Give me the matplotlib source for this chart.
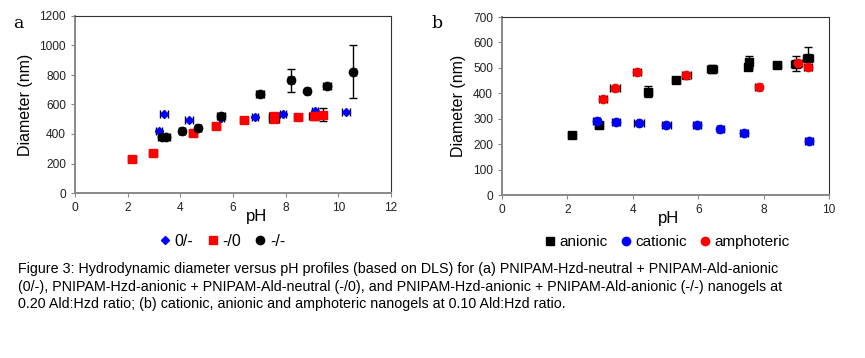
import matplotlib
matplotlib.use("Agg")
import matplotlib.pyplot as plt
from matplotlib.lines import Line2D

plt.rcParams['font.family'] = ['Liberation Sans', 'DejaVu Sans']

# Panel a data
a_blue_ph = [3.2, 3.38, 4.34, 5.55, 6.84, 7.89, 9.11, 10.29]
a_blue_d = [422, 535, 494, 508, 515, 537, 553, 548]
a_blue_xe = [0.12, 0.15, 0.15, 0.1, 0.12, 0.12, 0.12, 0.15]
a_blue_ye = [8, 8, 8, 8, 8, 8, 8, 8]

a_red_ph = [2.15, 2.97, 4.49, 5.35, 6.43, 7.56, 7.56, 8.48, 9.08, 9.4]
a_red_d = [231, 271, 404, 452, 494, 503, 525, 514, 520, 532]
a_red_xe = [0.15, 0.15, 0.15, 0.15, 0.15, 0.2, 0.2, 0.15, 0.2, 0.15]
a_red_ye = [8, 10, 20, 10, 10, 15, 20, 10, 25, 45]

a_blk_ph = [3.3, 3.45, 4.06, 4.68, 5.54, 7.04, 8.2, 8.82, 9.56, 10.57]
a_blk_d = [382, 382, 420, 440, 519, 670, 765, 690, 726, 823]
a_blk_xe = [0.15, 0.15, 0.12, 0.12, 0.15, 0.15, 0.1, 0.1, 0.15, 0.1]
a_blk_ye = [15, 10, 10, 10, 20, 20, 78, 8, 8, 182]

# Panel b data
b_an_ph = [2.14, 2.97, 4.48, 5.32, 6.41, 7.53, 7.55, 8.4, 9.0, 9.37]
b_an_d = [234, 275, 407, 454, 495, 504, 523, 513, 517, 537]
b_an_xe = [0.12, 0.12, 0.12, 0.12, 0.15, 0.1, 0.1, 0.12, 0.15, 0.15]
b_an_ye = [10, 12, 20, 10, 17, 10, 25, 10, 30, 45]

b_ca_ph = [2.89, 3.48, 4.18, 5.03, 5.97, 6.68, 7.41, 9.4]
b_ca_d = [292, 288, 284, 277, 277, 258, 242, 211]
b_ca_xe = [0.12, 0.12, 0.15, 0.15, 0.12, 0.12, 0.12, 0.12]
b_ca_ye = [5, 5, 5, 5, 5, 8, 5, 5]

b_am_ph = [3.09, 3.45, 4.13, 5.64, 7.85, 9.04, 9.35]
b_am_d = [378, 419, 485, 470, 424, 518, 505]
b_am_xe = [0.12, 0.15, 0.12, 0.15, 0.1, 0.12, 0.12]
b_am_ye = [5, 10, 5, 12, 5, 8, 8]

W, H = 865, 358
fig = plt.figure(figsize=(W / 100, H / 100), dpi=100)

def px_axes(l, t, r, b):
    return fig.add_axes([l / W, (H - b) / H, (r - l) / W, (b - t) / H])

def style(ax, pHx):
    for s in ['top', 'right']:
        ax.spines[s].set_color('#333333')
        ax.spines[s].set_linewidth(0.8)
    for s in ['left', 'bottom']:
        ax.spines[s].set_color('#888888')
        ax.spines[s].set_linewidth(1.4)
    ax.tick_params(axis='both', labelsize=8.6, length=3, width=0.8, color='#888888',
                   direction='out', labelcolor='#222222')
    ax.set_ylabel('Diameter (nm)', fontsize=11.5, labelpad=5)
    ax.set_xlabel('pH', fontsize=12)
    ax.xaxis.set_label_coords(pHx, -0.09)

def plot_series(ax, x, y, xe, ye, marker, color, ms):
    ax.errorbar(x, y, xerr=xe, yerr=ye, fmt=marker, color=color, mfc=color, mec=color,
                ms=ms, ecolor='black', elinewidth=1.0, capsize=3, capthick=1.0, zorder=3)

# Panel a
axa = px_axes(75, 16, 391, 193)
plot_series(axa, a_blue_ph, a_blue_d, a_blue_xe, a_blue_ye, 'D', '#0000ff', 4)
plot_series(axa, a_red_ph, a_red_d, a_red_xe, a_red_ye, 's', '#ff0000', 6)
plot_series(axa, a_blk_ph, a_blk_d, a_blk_xe, a_blk_ye, 'o', 'black', 6)
axa.set_xlim(0, 12)
axa.set_ylim(0, 1200)
axa.set_xticks(range(0, 13, 2))
axa.set_yticks(range(0, 1201, 200))
style(axa, 0.575)
handles_a = [Line2D([], [], ls='none', marker='D', color='#0000ff', ms=4),
             Line2D([], [], ls='none', marker='s', color='#ff0000', ms=6),
             Line2D([], [], ls='none', marker='o', color='black', ms=6)]
axa.legend(handles_a, ['0/-', '-/0', '-/-'], loc='upper center', bbox_to_anchor=(0.46, -0.15),
           ncol=3, frameon=False, fontsize=11.5, handletextpad=0.0, columnspacing=0.6,
           handlelength=1.2)
fig.text(13 / W, 1 - 28 / H, 'a', fontsize=12.5, family='DejaVu Serif')

# Panel b
axb = px_axes(502, 17, 829, 195)
plot_series(axb, b_an_ph, b_an_d, b_an_xe, b_an_ye, 's', 'black', 6)
plot_series(axb, b_ca_ph, b_ca_d, b_ca_xe, b_ca_ye, 'o', '#0000ff', 6)
plot_series(axb, b_am_ph, b_am_d, b_am_xe, b_am_ye, 'o', '#ff0000', 6)
axb.set_xlim(0, 10)
axb.set_ylim(0, 700)
axb.set_xticks(range(0, 11, 2))
axb.set_yticks(range(0, 701, 100))
style(axb, 0.51)
handles_b = [Line2D([], [], ls='none', marker='s', color='black', ms=6),
             Line2D([], [], ls='none', marker='o', color='#0000ff', ms=6),
             Line2D([], [], ls='none', marker='o', color='#ff0000', ms=6)]
axb.legend(handles_b, ['anionic', 'cationic', 'amphoteric'], loc='upper center',
           bbox_to_anchor=(0.5, -0.15), ncol=3, frameon=False, fontsize=11,
           handletextpad=0.0, columnspacing=0.6, handlelength=1.2)
fig.text(431 / W, 1 - 28 / H, 'b', fontsize=12.5, family='DejaVu Serif')

caption = ("Figure 3: Hydrodynamic diameter versus pH profiles (based on DLS) for (a) PNIPAM-Hzd-neutral + PNIPAM-Ald-anionic\n"
           "(0/-), PNIPAM-Hzd-anionic + PNIPAM-Ald-neutral (-/0), and PNIPAM-Hzd-anionic + PNIPAM-Ald-anionic (-/-) nanogels at\n"
           "0.20 Ald:Hzd ratio; (b) cationic, anionic and amphoteric nanogels at 0.10 Ald:Hzd ratio.")
fig.text(18 / W, 1 - 262 / H, caption, fontsize=10.3, va='top', linespacing=1.32)

fig.savefig('out.png', dpi=100)
